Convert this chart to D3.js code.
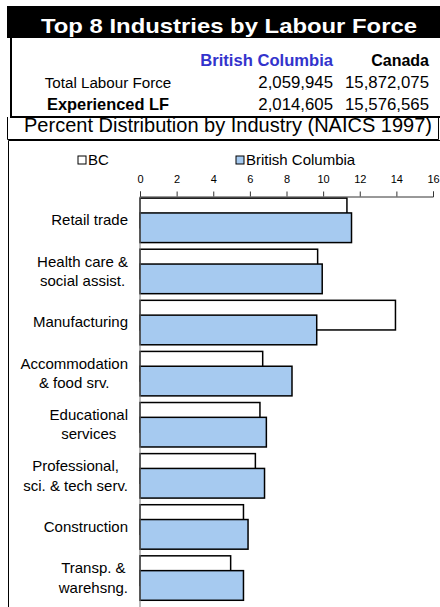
<!DOCTYPE html>
<html>
<head>
<meta charset="utf-8">
<script src="https://cdn.jsdelivr.net/npm/d3@7"></script>
<style>
  body { margin: 0; background: #fff; }
  svg { display: block; font-family: Arial, "Liberation Sans", sans-serif; }
</style>
</head>
<body>
<div id="chart"></div>
<script>
// industry labels (wrapped as in the original), two series in percent
const industries = [
  ["Retail trade"],
  ["Health care &", "social assist."],
  ["Manufacturing"],
  ["Accommodation", "& food srv."],
  ["Educational", "services"],
  ["Professional,", "sci. & tech serv."],
  ["Construction"],
  ["Transp. &", "warehsng."]
]
const seriesNames = ["BC", "British Columbia"]
const bcValues = [11.3, 9.7, 13.95, 6.7, 6.55, 6.3, 5.65, 4.95]
const britishColumbiaValues = [11.55, 9.95, 9.65, 8.3, 6.9, 6.8, 5.9, 5.65]
const xTicks = [0, 2, 4, 6, 8, 10, 12, 14, 16]

// header table
const tableHead = ["British Columbia", "Canada"]
const tableRows = [
  { label: "Total Labour Force", bc: "2,059,945", ca: "15,872,075", bold: false },
  { label: "Experienced LF", bc: "2,014,605", ca: "15,576,565", bold: true }
]

const width = 440
const height = 607

const svg = d3.select("#chart")
  .append("svg")
  .attr("width", width)
  .attr("height", height)

// title band
svg.append("rect")
  .attr("x", 7).attr("y", 6)
  .attr("width", width - 7).attr("height", 32)
  .attr("fill", "#000")

svg.append("text")
  .attr("x", 41).attr("y", 32.5)
  .attr("fill", "#fff")
  .attr("font-weight", "bold")
  .attr("font-size", 21)
  .attr("textLength", 376)
  .attr("lengthAdjust", "spacingAndGlyphs")
  .text("Top 8 Industries by Labour Force")

// table frame
svg.append("path")
  .attr("d", "M11,38V117H440")
  .attr("fill", "none")
  .attr("stroke", "#000")
  .attr("stroke-width", 2)

svg.append("text")
  .attr("x", 333).attr("y", 66)
  .attr("text-anchor", "end")
  .attr("fill", "#3333cc")
  .attr("font-weight", "bold")
  .attr("font-size", 16.6)
  .text(tableHead[0])

svg.append("text")
  .attr("x", 429).attr("y", 66)
  .attr("text-anchor", "end")
  .attr("font-weight", "bold")
  .attr("font-size", 16)
  .text(tableHead[1])

tableRows.forEach((r, i) => {
  const yy = 88 + i * 22
  svg.append("text")
    .attr("x", 108).attr("y", yy)
    .attr("text-anchor", "middle")
    .attr("font-weight", r.bold ? "bold" : null)
    .attr("font-size", r.bold ? 16.4 : 15.2)
    .text(r.label)
  svg.append("text")
    .attr("x", 333).attr("y", yy)
    .attr("text-anchor", "end")
    .attr("font-size", 16.8)
    .text(r.bc)
  svg.append("text")
    .attr("x", 429).attr("y", yy)
    .attr("text-anchor", "end")
    .attr("font-size", 16.8)
    .text(r.ca)
})

// subtitle row
svg.append("path")
  .attr("d", "M7.5,117V139.5H438.5V117")
  .attr("fill", "none")
  .attr("stroke", "#000")
  .attr("stroke-width", 1)

svg.append("text")
  .attr("x", 228).attr("y", 132)
  .attr("text-anchor", "middle")
  .attr("font-size", 20)
  .text("Percent Distribution by Industry (NAICS 1997)")

// chart frame
svg.append("path")
  .attr("d", "M8.5,607V140.5H440")
  .attr("fill", "none")
  .attr("stroke", "#000")
  .attr("stroke-width", 1)

// legend
const legendColors = ["#fff", "#a6caf0"]
const legendX = [78, 236]
seriesNames.forEach((name, i) => {
  svg.append("rect")
    .attr("x", legendX[i]).attr("y", 156)
    .attr("width", 8).attr("height", 8)
    .attr("fill", legendColors[i])
    .attr("stroke", "#000")
    .attr("stroke-width", 1)
  svg.append("text")
    .attr("x", legendX[i] + 10).attr("y", 164.5)
    .attr("font-size", 15)
    .text(name)
})

// scales
const x = d3.scaleLinear().domain([0, 16]).range([140, 433])
const y = d3.scaleBand()
  .domain(d3.range(industries.length))
  .range([194.8, 194.8 + 51.1 * industries.length])
  .paddingInner(0.13)
  .paddingOuter(0.065)

const barH = y.bandwidth() / 1.5
const offset = barH / 2

// bars
const plot = svg.append("g")

plot.selectAll("rect.bc")
  .data(bcValues)
  .join("rect")
  .attr("class", "bc")
  .attr("x", x(0))
  .attr("y", (d, i) => y(i))
  .attr("width", d => x(d) - x(0))
  .attr("height", barH)
  .attr("fill", "#fff")
  .attr("stroke", "#000")
  .attr("stroke-width", 1.5)

plot.selectAll("rect.bcol")
  .data(britishColumbiaValues)
  .join("rect")
  .attr("class", "bcol")
  .attr("x", x(0))
  .attr("y", (d, i) => y(i) + offset)
  .attr("width", d => x(d) - x(0))
  .attr("height", barH)
  .attr("fill", "#a6caf0")
  .attr("stroke", "#000")
  .attr("stroke-width", 1.5)

// value axis on top
const axis = svg.append("g")
  .attr("transform", "translate(0,196.5)")
  .call(d3.axisTop(x).tickValues(xTicks).tickSize(5).tickSizeOuter(5).tickPadding(9))

axis.select(".domain").attr("stroke", "#333")
axis.selectAll(".tick line").attr("stroke", "#333")
axis.selectAll(".tick text")
  .attr("font-size", 11)
  .attr("font-family", "Arial, 'Liberation Sans', sans-serif")
  .attr("fill", "#000")

// category axis line
svg.append("line")
  .attr("x1", x(0)).attr("x2", x(0))
  .attr("y1", 196.5).attr("y2", height)
  .attr("stroke", "#777")

// category labels: block right-aligned, lines centred in the block
const labelRight = 128
const lineH = 19.5
industries.forEach((lines, i) => {
  const cy = y(i) + y.bandwidth() / 2 + offset / 2 - 7.5
  const g = svg.append("g")
  const texts = lines.map((t, j) => g.append("text")
    .attr("font-size", 15)
    .attr("y", cy + (j - (lines.length - 1) / 2) * lineH + 5)
    .attr("text-anchor", "middle")
    .text(t))
  const maxW = d3.max(texts, t => t.node().getComputedTextLength())
  texts.forEach(t => t.attr("x", labelRight - maxW / 2))
})
</script>
</body>
</html>
